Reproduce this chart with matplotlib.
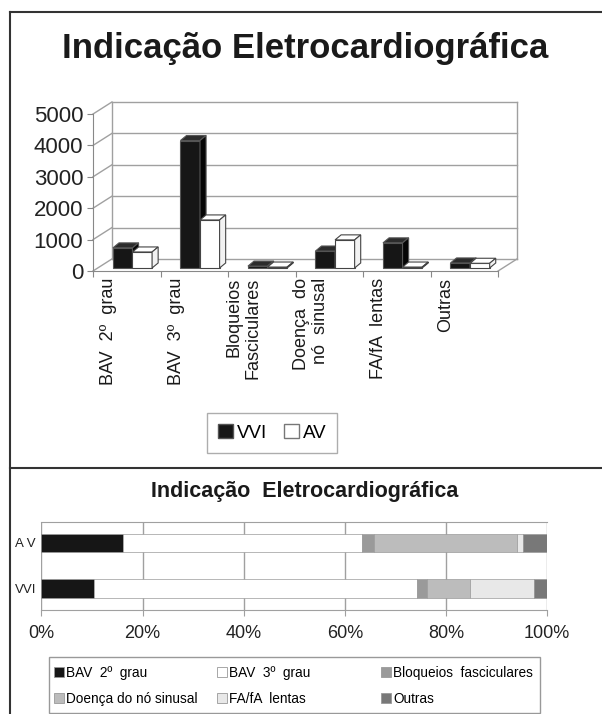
import numpy as np
import matplotlib
matplotlib.use('Agg')
import matplotlib.pyplot as plt
from matplotlib.patches import Polygon, Patch, Rectangle
from matplotlib.lines import Line2D
from matplotlib.transforms import blended_transform_factory

plt.rcParams['font.family'] = ['Liberation Sans', 'DejaVu Sans']

# dados - grafico de barras (3D)
categorias = ['BAV  2º  grau', 'BAV  3º  grau', 'Bloqueios\nFasciculares',
              'Doença  do\nnó  sinusal', 'FA/fA  lentas', 'Outras']
vvi = [640, 4060, 60, 540, 800, 160]
av = [510, 1530, 30, 895, 30, 150]
yticks_top = [0, 1000, 2000, 3000, 4000, 5000]

# dados - barras 100% empilhadas
modos = ['VVI', 'A V']
bav2 = [10.3, 16.2]
bav3 = [63.9, 47.3]
bloqueios = [2.1, 2.2]
doenca = [8.5, 28.3]
fa_lentas = [12.6, 1.3]
outras = [2.6, 4.7]
nomes_leg = ['BAV  2º  grau', 'BAV  3º  grau', 'Bloqueios  fasciculares',
             'Doença do nó sinusal', 'FA/fA  lentas', 'Outras']
cores = ['#161616', '#ffffff', '#9a9a9a', '#bcbcbc', '#e8e8e8', '#787878']

W, H = 602, 714
def fx(px):
    return px / W
def fy(py):
    return 1 - py / H

fig = plt.figure(figsize=(6.02, 7.14), dpi=100)

# moldura
for xs, ys in [([fx(10), 1], [fy(12), fy(12)]),
               ([fx(10), fx(10)], [fy(12), 0]),
               ([fx(10), 1], [fy(468), fy(468)])]:
    fig.add_artist(Line2D(xs, ys, transform=fig.transFigure, color='#333333', lw=1.5))

fig.text(fx(305), fy(58), 'Indicação Eletrocardiográfica', ha='center', va='baseline',
         fontsize=25, weight='bold', color='#1a1a1a')

# ---------- grafico de cima ----------
ax = fig.add_axes([fx(93), fy(271), fx(517) - fx(93), fy(102) - fy(271)])
n = len(categorias)
DX, DY = 0.28, 383
ax.set_xlim(0, n + DX)
ax.set_ylim(0, 5000 + DY)
for s in ['top', 'right']:
    ax.spines[s].set_visible(False)
ax.spines['left'].set_bounds(0, 5000)
ax.spines['bottom'].set_bounds(0, n)
for s in ['left', 'bottom']:
    ax.spines[s].set_color('#888888')
ax.set_yticks(yticks_top)
ax.set_xticks(range(n + 1))
ax.set_xticklabels([])
ax.tick_params(axis='y', length=4, color='#888888', labelsize=16, pad=3, labelcolor='#222222')
ax.tick_params(axis='x', length=4, color='#888888')
ax.patch.set_visible(False)

gc = '#a0a0a0'
for v in yticks_top:
    ax.plot([DX, n + DX], [v + DY, v + DY], color=gc, lw=1, clip_on=False, zorder=1)
    ax.plot([0, DX], [v, v + DY], color=gc, lw=1, clip_on=False, zorder=1)
ax.plot([DX, DX], [DY, 5000 + DY], color=gc, lw=1, clip_on=False, zorder=1)
ax.plot([n + DX, n + DX], [DY, 5000 + DY], color=gc, lw=1, clip_on=False, zorder=1)
ax.plot([n, n + DX], [0, DY], color=gc, lw=1, clip_on=False, zorder=1)

base = 96
bw = 0.29
ddx, ddy = 0.09, 160
series = [(vvi, 0.295, '#161616', '#2c2c2c', '#050505', '#555555'),
          (av, 0.585, '#ffffff', '#ffffff', '#f2f2f2', '#444444')]
for i in range(n):
    for k, (vals, off, cf, ct, cs, ce) in enumerate(series):
        z = 3 + 3 * (2 * i + k)
        x0 = i + off
        top = base + vals[i]
        ax.bar(x0, vals[i], width=bw, bottom=base, align='edge', color=cf,
               edgecolor=ce, lw=0.8, zorder=z)
        ax.add_patch(Polygon([(x0, top), (x0 + bw, top), (x0 + bw + ddx, top + ddy),
                              (x0 + ddx, top + ddy)], closed=True, facecolor=ct,
                             edgecolor=ce, lw=0.8, zorder=z + 1))
        ax.add_patch(Polygon([(x0 + bw, base), (x0 + bw + ddx, base + ddy),
                              (x0 + bw + ddx, top + ddy), (x0 + bw, top)], closed=True,
                             facecolor=cs, edgecolor=ce, lw=0.8, zorder=z + 1))

tr = blended_transform_factory(ax.transData, fig.transFigure)
for i, lab in enumerate(categorias):
    ax.text(i + 0.5 - 0.27, fy(278), lab, rotation=90, ha='center', va='top',
            multialignment='right', fontsize=13, color='#1a1a1a', transform=tr)

fig.legend([Patch(facecolor='#161616', edgecolor='#555555'),
            Patch(facecolor='white', edgecolor='#777777')], ['VVI', 'AV'],
           loc='center', bbox_to_anchor=(fx(272), fy(433)), ncol=2,
           fancybox=False, edgecolor='#999999', fontsize=13.5, handlelength=0.8,
           handleheight=0.8, handletextpad=0.2, columnspacing=0.9, borderpad=0.6)

# ---------- grafico de baixo ----------
fig.text(fx(305), fy(492), 'Indicação  Eletrocardiográfica', ha='center', va='center',
         fontsize=15.5, weight='bold', color='#1a1a1a')

bx = fig.add_axes([fx(41.5), fy(610), fx(547) - fx(41.5), fy(522) - fy(610)])
ypos = np.arange(len(modos))
esq = np.zeros(len(modos))
for seg, c in zip([bav2, bav3, bloqueios, doenca, fa_lentas, outras], cores):
    bx.barh(ypos, seg, left=esq, height=0.41, color=c, edgecolor='#9a9a9a', lw=0.5, zorder=3)
    esq += np.array(seg)
bx.set_xlim(0, 100)
bx.set_ylim(-0.47, 1.46)
bx.set_xticks(range(0, 101, 20))
bx.set_xticklabels([f'{t}%' for t in range(0, 101, 20)])
bx.set_yticks(ypos)
bx.set_yticklabels(modos)
bx.grid(axis='x', color='#a0a0a0', lw=1, zorder=0)
for s in ['left', 'right']:
    bx.spines[s].set_visible(False)
for s in ['top', 'bottom']:
    bx.spines[s].set_color('#a0a0a0')
bx.tick_params(axis='x', length=4, color='#a0a0a0', labelsize=13, pad=7, labelcolor='#222222')
bx.tick_params(axis='y', length=0, labelsize=9.5, pad=4, labelcolor='#222222')

# legenda de baixo: moldura + 3 colunas
fig.add_artist(Rectangle((fx(49), fy(713)), fx(540) - fx(49), fy(657) - fy(713),
                         transform=fig.transFigure, fill=False, edgecolor='#999999', lw=1))
hs = [Patch(facecolor=c, edgecolor='#999999', lw=0.6) for c in cores]
for col, xcol in enumerate([54, 217, 381]):
    idx = [col, col + 3]
    fig.legend([hs[j] for j in idx], [nomes_leg[j] for j in idx],
               loc='upper left', bbox_to_anchor=(fx(xcol), fy(666)), frameon=False,
               borderaxespad=0, borderpad=0, fontsize=9.8, handlelength=0.7,
               handleheight=0.7, handletextpad=0.2, labelspacing=0.85)

fig.savefig('out.png', dpi=100)
